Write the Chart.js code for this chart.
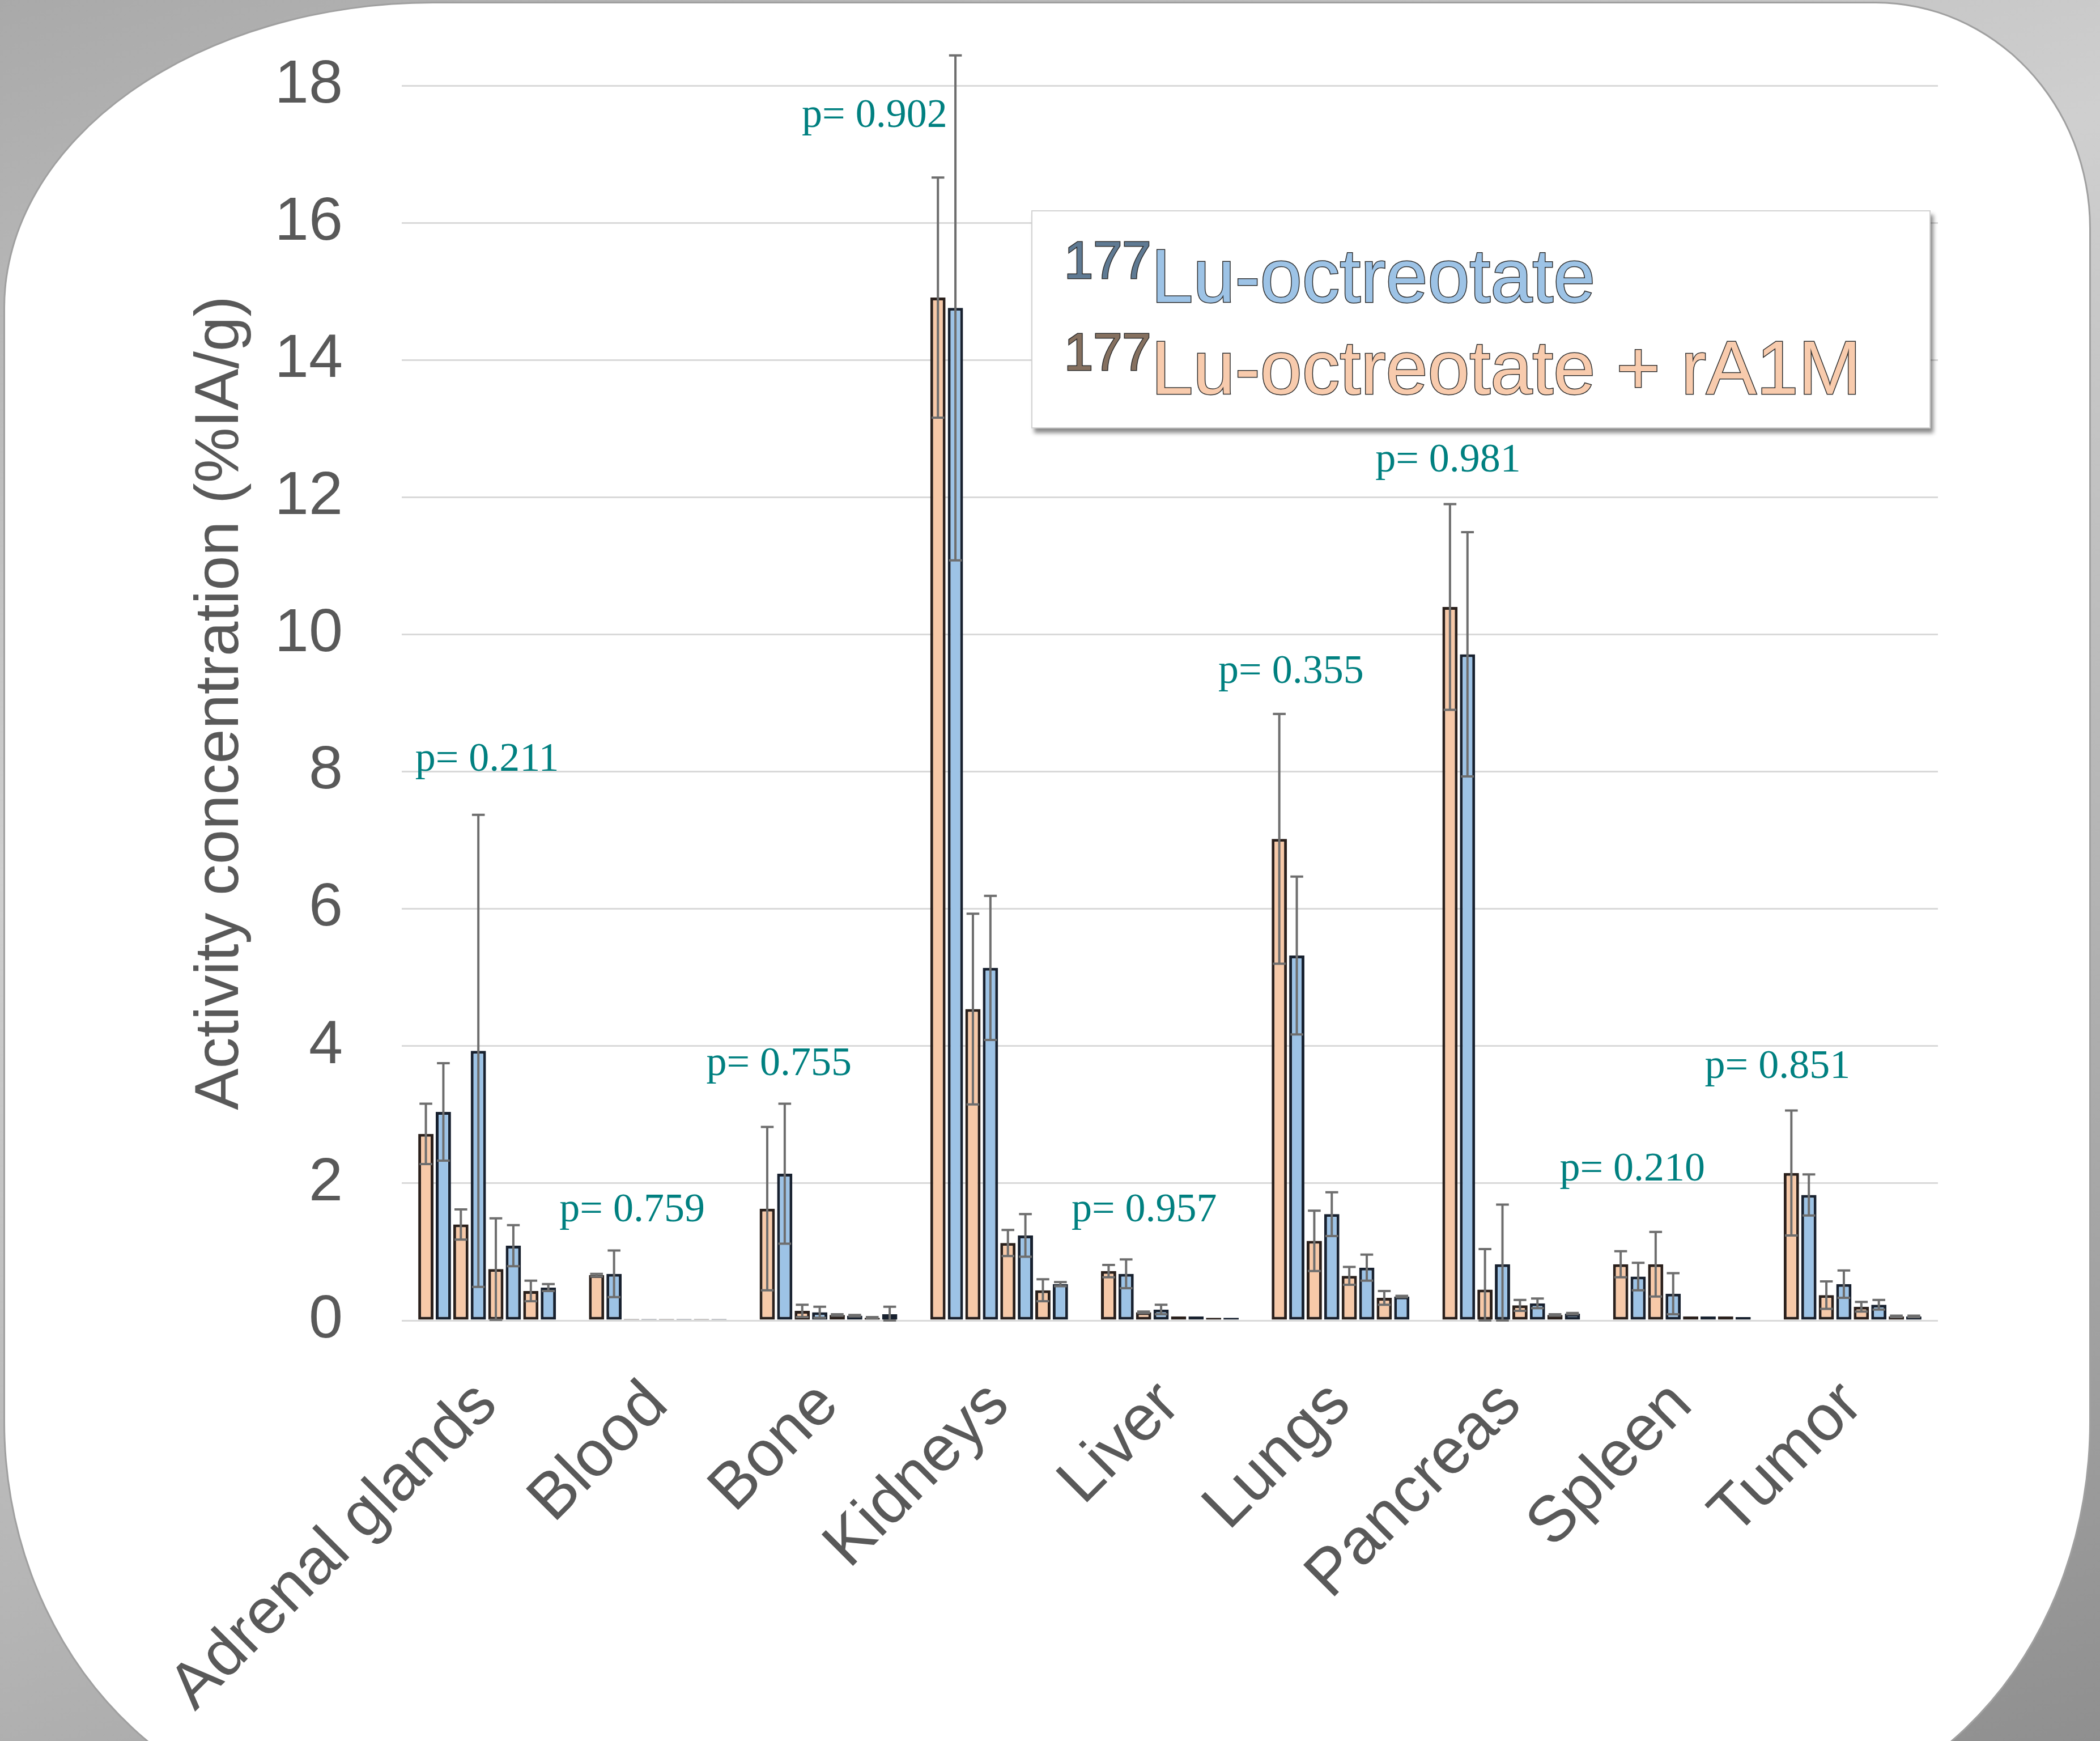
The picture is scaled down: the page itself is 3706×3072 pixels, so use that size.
<!DOCTYPE html>
<html>
<head>
<meta charset="utf-8">
<script src="https://cdn.jsdelivr.net/npm/chart.js@4/dist/chart.umd.min.js"></script>
<style>
    html, body { margin: 0; padding: 0; }
    body {
        width: 3706px; height: 3072px; overflow: hidden; position: relative;
        background: linear-gradient(160deg, #a9a9a9 0%, #cfcfcf 35%, #b4b4b4 65%, #8f8f8f 100%);
        font-family: "Liberation Sans", Arial, sans-serif;
    }
    .panel {
        position: absolute; left: 6px; top: 3px; width: 3678px; height: 3200px;
        background: #fff; border: 3px solid #a0a0a0;
        border-radius: 760px 380px 600px 620px / 540px 400px 700px 700px;
    }
    .chart-wrap { position: absolute; left: 0; top: 0; width: 3706px; height: 3072px; }
    .legend {
        position: absolute; left: 1820px; top: 371px; width: 1583px; height: 381px;
        background: #fff; border: 2px solid #d2d2d2;
        box-shadow: 5px 8px 7px rgba(0,0,0,0.45);
    }
    .legend .item {
        position: absolute; left: 56px; font-size: 133px; line-height: 132px;
        white-space: nowrap; -webkit-text-stroke: 3px #2f2f2f; paint-order: stroke fill;
    }
    .legend .sup { font-size: 92px; position: relative; top: -42px; }
    .legend .oct { top: 48px; color: #9dc3e6; }
    .legend .oct .sup { color: #5f7a93; }
    .legend .combo { top: 210px; color: #f8cbad; }
    .legend .combo .sup { color: #85705f; }
</style>
</head>
<body>
<div class="panel"></div>
<div class="chart-wrap"><canvas id="chart"></canvas></div>
<div class="legend">
    <div class="item oct"><span class="sup">177</span>Lu-octreotate</div>
    <div class="item combo"><span class="sup">177</span>Lu-octreotate + rA1M</div>
</div>
<script>
// Organs on the x axis
const organs = ['Adrenal glands', 'Blood', 'Bone', 'Kidneys', 'Liver', 'Lungs', 'Pancreas', 'Spleen', 'Tumor'];

// Axis range
const yMin = 0;
const yMax = 18;
const yStep = 2;

// 177Lu-octreotate + rA1M (orange), four time points, mean and SD
const combo1 = [2.72, 0.66, 1.63, 14.91, 0.72, 7.02, 10.40, 0.82, 2.15];
const combo1Err = [0.44, 0.02, 1.19, 1.75, 0.09, 1.82, 1.50, 0.19, 0.91];
const combo2 = [1.40, 0.02, 0.14, 4.54, 0.12, 1.16, 0.45, 0.82, 0.37];
const combo2Err = [0.22, 0, 0.09, 1.39, 0.01, 0.44, 0.59, 0.47, 0.20];
const combo3 = [0.75, 0.02, 0.08, 1.13, 0.06, 0.65, 0.22, 0.06, 0.20];
const combo3Err = [0.74, 0, 0.01, 0.19, 0, 0.13, 0.08, 0, 0.07];
const combo4 = [0.43, 0.02, 0.04, 0.44, 0.04, 0.33, 0.08, 0.06, 0.06];
const combo4Err = [0.15, 0, 0.01, 0.16, 0, 0.10, 0.01, 0, 0.01];

// 177Lu-octreotate (blue), four time points, mean and SD
const oct1 = [3.04, 0.68, 2.14, 14.76, 0.68, 5.32, 9.71, 0.64, 1.83];
const oct1Err = [0.71, 0.34, 1.02, 3.68, 0.21, 1.15, 1.78, 0.20, 0.30];
const oct2 = [3.93, 0.02, 0.12, 5.14, 0.16, 1.55, 0.82, 0.39, 0.53];
const oct2Err = [3.44, 0, 0.08, 1.05, 0.07, 0.32, 0.87, 0.30, 0.20];
const oct3 = [1.09, 0.02, 0.07, 1.24, 0.06, 0.77, 0.25, 0.06, 0.23];
const oct3Err = [0.30, 0, 0.01, 0.31, 0, 0.19, 0.07, 0, 0.07];
const oct4 = [0.48, 0.02, 0.09, 0.53, 0.04, 0.35, 0.10, 0.05, 0.06];
const oct4Err = [0.05, 0, 0.11, 0.03, 0, 0.01, 0.01, 0, 0.01];

// p-values per organ and the height (in %IA/g) where each is written
const pValues = ['p= 0.211', 'p= 0.759', 'p= 0.755', 'p= 0.902', 'p= 0.957', 'p= 0.355', 'p= 0.981', 'p= 0.210', 'p= 0.851'];
const pLabelY = [8.17, 1.6, 3.73, 17.55, 1.6, 9.45, 12.53, 2.2, 3.69];

// layout: horizontal shift of each p-value, in category widths
const pShift = [0, -0.15, -0.29, -0.73, -0.15, -0.29, -0.37, -0.29, -0.44];

const FONT = '"Liberation Sans", Arial, sans-serif';
const TEXT = '#595959';
const ORANGE = '#f7c9a8', ORANGE_EDGE = '#2a201c';
const BLUE = '#9dc3e6', BLUE_EDGE = '#18212f';

function bars(label, data, errors, fill, edge) {
    return {
        label, data, errors,
        backgroundColor: fill,
        borderColor: edge,
        borderWidth: 5,
        borderSkipped: false,
        categoryPercentage: 0.82,
        barPercentage: 0.87
    };
}

const datasets = [
    bars('177Lu-octreotate + rA1M (1)', combo1, combo1Err, ORANGE, ORANGE_EDGE),
    bars('177Lu-octreotate (1)', oct1, oct1Err, BLUE, BLUE_EDGE),
    bars('177Lu-octreotate + rA1M (2)', combo2, combo2Err, ORANGE, ORANGE_EDGE),
    bars('177Lu-octreotate (2)', oct2, oct2Err, BLUE, BLUE_EDGE),
    bars('177Lu-octreotate + rA1M (3)', combo3, combo3Err, ORANGE, ORANGE_EDGE),
    bars('177Lu-octreotate (3)', oct3, oct3Err, BLUE, BLUE_EDGE),
    bars('177Lu-octreotate + rA1M (4)', combo4, combo4Err, ORANGE, ORANGE_EDGE),
    bars('177Lu-octreotate (4)', oct4, oct4Err, BLUE, BLUE_EDGE)
];

// SD whiskers with caps at both ends
const errorBars = {
    id: 'errorBars',
    afterDatasetsDraw(chart) {
        const ctx = chart.ctx;
        const y = chart.scales.y;
        ctx.save();
        ctx.strokeStyle = '#6e6e6e';
        ctx.lineWidth = 4;
        chart.data.datasets.forEach((ds, di) => {
            const meta = chart.getDatasetMeta(di);
            meta.data.forEach((bar, i) => {
                const e = ds.errors[i];
                if (!e) return;
                const v = ds.data[i];
                const top = y.getPixelForValue(v + e);
                const bot = y.getPixelForValue(Math.max(v - e, 0));
                const half = bar.width * 0.42;
                ctx.beginPath();
                ctx.moveTo(bar.x, top); ctx.lineTo(bar.x, bot);
                ctx.moveTo(bar.x - half, top); ctx.lineTo(bar.x + half, top);
                ctx.moveTo(bar.x - half, bot); ctx.lineTo(bar.x + half, bot);
                ctx.stroke();
            });
        });
        ctx.restore();
    }
};

// p-value annotations
const pLabels = {
    id: 'pLabels',
    afterDatasetsDraw(chart) {
        const ctx = chart.ctx;
        const x = chart.scales.x, y = chart.scales.y;
        const catW = (chart.chartArea.right - chart.chartArea.left) / organs.length;
        ctx.save();
        ctx.fillStyle = '#008080';
        ctx.font = '72px "Liberation Serif", "Times New Roman", serif';
        ctx.textAlign = 'center';
        ctx.textBaseline = 'middle';
        pValues.forEach((txt, i) => {
            ctx.fillText(txt, x.getPixelForValue(i) + pShift[i] * catW, y.getPixelForValue(pLabelY[i]));
        });
        ctx.restore();
    }
};

new Chart(document.getElementById('chart'), {
    type: 'bar',
    data: { labels: organs, datasets },
    plugins: [errorBars, pLabels],
    options: {
        responsive: true,
        maintainAspectRatio: false,
        animation: false,
        devicePixelRatio: 1,
        layout: { padding: { top: 151, right: 286, bottom: 0, left: 0 } },
        plugins: { legend: { display: false }, tooltip: { enabled: false } },
        scales: {
            x: {
                grid: { display: false },
                border: { display: false },
                ticks: {
                    color: TEXT, font: { family: FONT, size: 114 },
                    minRotation: 45, maxRotation: 45, autoSkip: false, padding: 74
                },
                afterFit(scale) { scale.height = 742; }
            },
            y: {
                min: yMin, max: yMax,
                ticks: { stepSize: yStep, color: TEXT, font: { family: FONT, size: 108 }, padding: 104 },
                grid: { color: '#d9d9d9', lineWidth: 3, drawTicks: false },
                border: { display: false },
                title: {
                    display: true, text: 'Activity concentration (%IA/g)', color: TEXT,
                    font: { family: FONT, size: 110 }, padding: { top: 324, bottom: 0 }
                },
                afterFit(scale) {
                    scale.width = 709;
                    scale.paddingTop = 0;
                    scale.paddingBottom = 0;
                }
            }
        }
    }
});
</script>
</body>
</html>
